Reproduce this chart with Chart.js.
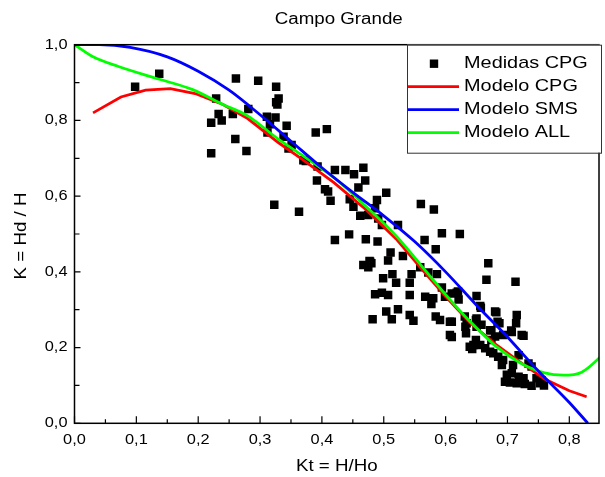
<!DOCTYPE html>
<html>
<head>
<meta charset="utf-8">
<script src="https://cdn.jsdelivr.net/npm/chart.js@4.4.1/dist/chart.umd.min.js"></script>
<style>
  html, body { margin: 0; padding: 0; background: #fff; }
  #wrap { width: 605px; height: 477px; }
</style>
</head>
<body>
<div id="wrap"><canvas id="chart" width="605" height="477"></canvas></div>
<script>
// Measured Kt / K pairs (Campo Grande station)
const kt = [
  0.098, 0.137, 0.261, 0.297, 0.229, 0.281, 0.233, 0.256, 0.238, 0.221,
  0.260, 0.278, 0.221, 0.326, 0.330, 0.326, 0.328, 0.311, 0.325, 0.343,
  0.316, 0.312, 0.338, 0.351, 0.346, 0.390, 0.408, 0.374, 0.393, 0.392,
  0.405, 0.410, 0.414, 0.323, 0.363, 0.421, 0.444, 0.421, 0.438, 0.452,
  0.467, 0.470, 0.459, 0.445, 0.451, 0.489, 0.491, 0.471, 0.490, 0.477,
  0.504, 0.462, 0.475, 0.486, 0.497, 0.523, 0.511, 0.560, 0.581, 0.594,
  0.623, 0.566, 0.584, 0.507, 0.531, 0.514, 0.499, 0.520, 0.545, 0.559,
  0.572, 0.586, 0.594, 0.599, 0.620, 0.650, 0.656, 0.669, 0.666, 0.478,
  0.467, 0.475, 0.486, 0.497, 0.507, 0.542, 0.504, 0.523, 0.482, 0.542,
  0.548, 0.584, 0.591, 0.610, 0.631, 0.650, 0.658, 0.680, 0.674, 0.567,
  0.580, 0.577, 0.607, 0.633, 0.649, 0.674, 0.639, 0.542, 0.513, 0.634,
  0.610, 0.713, 0.715, 0.714, 0.684, 0.650, 0.672, 0.706, 0.723, 0.693,
  0.680, 0.645, 0.656, 0.664, 0.672, 0.677, 0.685, 0.691, 0.693, 0.709,
  0.718, 0.734, 0.699, 0.707, 0.718, 0.726, 0.739, 0.696, 0.704, 0.715,
  0.728, 0.753, 0.755, 0.747, 0.739, 0.618, 0.621, 0.657, 0.682, 0.607,
  0.632, 0.649, 0.687, 0.707, 0.726, 0.610, 0.643, 0.759, 0.480, 0.370
];
const kd = [
  0.889, 0.923, 0.911, 0.905, 0.858, 0.830, 0.817, 0.817, 0.800, 0.794,
  0.751, 0.719, 0.713, 0.889, 0.858, 0.848, 0.842, 0.810, 0.808, 0.786,
  0.790, 0.768, 0.757, 0.735, 0.726, 0.768, 0.777, 0.693, 0.678, 0.641,
  0.618, 0.612, 0.588, 0.577, 0.559, 0.484, 0.499, 0.669, 0.669, 0.658,
  0.675, 0.641, 0.623, 0.592, 0.572, 0.590, 0.541, 0.486, 0.480, 0.429,
  0.609, 0.548, 0.550, 0.568, 0.524, 0.524, 0.451, 0.579, 0.565, 0.502,
  0.500, 0.484, 0.460, 0.430, 0.442, 0.394, 0.383, 0.371, 0.394, 0.412,
  0.398, 0.394, 0.359, 0.334, 0.348, 0.336, 0.310, 0.423, 0.379, 0.427,
  0.418, 0.412, 0.341, 0.345, 0.339, 0.339, 0.295, 0.301, 0.275, 0.286,
  0.271, 0.282, 0.273, 0.268, 0.282, 0.277, 0.260, 0.295, 0.246, 0.334,
  0.330, 0.315, 0.233, 0.238, 0.220, 0.220, 0.202, 0.371, 0.275, 0.264,
  0.343, 0.374, 0.286, 0.264, 0.268, 0.255, 0.246, 0.245, 0.233, 0.233,
  0.229, 0.207, 0.207, 0.198, 0.189, 0.185, 0.176, 0.154, 0.167, 0.154,
  0.180, 0.158, 0.128, 0.132, 0.123, 0.119, 0.099, 0.110, 0.108, 0.106,
  0.104, 0.106, 0.114, 0.119, 0.150, 0.345, 0.327, 0.305, 0.293, 0.268,
  0.255, 0.273, 0.264, 0.241, 0.231, 0.228, 0.196, 0.100, 0.423, 0.695
];

// Model curves
const cpgX = [0.030, 0.075, 0.115, 0.155, 0.195, 0.240, 0.280, 0.330, 0.370, 0.420,
              0.470, 0.520, 0.560, 0.600, 0.640, 0.680, 0.720, 0.760, 0.800, 0.828];
const cpgY = [0.820, 0.862, 0.880, 0.884, 0.871, 0.842, 0.805, 0.741, 0.695, 0.635,
              0.566, 0.487, 0.410, 0.335, 0.265, 0.210, 0.162, 0.117, 0.086, 0.070];

const smsX = [0.000, 0.040, 0.090, 0.150, 0.200, 0.250, 0.300, 0.350, 0.400, 0.450,
              0.500, 0.550, 0.600, 0.650, 0.700, 0.750, 0.800, 0.830];
const smsY = [1.000, 1.000, 0.993, 0.968, 0.930, 0.880, 0.815, 0.745, 0.675, 0.610,
              0.548, 0.480, 0.400, 0.312, 0.228, 0.138, 0.055, 0.000];

const allX = [0.000, 0.030, 0.070, 0.130, 0.190, 0.240, 0.280, 0.330, 0.370, 0.420,
              0.470, 0.520, 0.560, 0.600, 0.640, 0.680, 0.720, 0.760, 0.790, 0.820, 0.860];
const allY = [1.000, 0.968, 0.943, 0.912, 0.882, 0.842, 0.812, 0.750, 0.706, 0.648,
              0.575, 0.495, 0.418, 0.340, 0.268, 0.205, 0.160, 0.133, 0.127, 0.135, 0.190];

const xMajor = [0, 0.1, 0.2, 0.3, 0.4, 0.5, 0.6, 0.7, 0.8];
const xMinor = [0.05, 0.15, 0.25, 0.35, 0.45, 0.55, 0.65, 0.75];
const yMajor = [0, 0.2, 0.4, 0.6, 0.8, 1.0];
const yMinor = [0.1, 0.3, 0.5, 0.7, 0.9];

const legendItems = [
  { label: 'Medidas CPG', kind: 'square', color: '#000000' },
  { label: 'Modelo CPG', kind: 'line', color: '#ff0000' },
  { label: 'Modelo SMS', kind: 'line', color: '#0000ff' },
  { label: 'Modelo ALL', kind: 'line', color: '#00ff00' },
];

const FONT = '"Liberation Sans", Arial, sans-serif';
const STRETCH = 1.17;

const pairs = (xs, ys) => xs.map((x, i) => ({ x, y: ys[i] }));
const fmt = v => v.toFixed(1).replace('.', ',');

function wideText(ctx, text, x, y, size, align, rot) {
  ctx.save();
  ctx.translate(x, y);
  if (rot) ctx.rotate(rot);
  ctx.scale(STRETCH, 1);
  ctx.font = size + 'px ' + FONT;
  ctx.fillStyle = '#000';
  ctx.textAlign = align;
  ctx.textBaseline = 'middle';
  ctx.fillText(text, 0, 0);
  ctx.restore();
}

// frame, inward ticks, labels, titles and the boxed legend
const decorations = {
  id: 'decorations',
  afterDatasetsDraw(chart) {
    const { ctx, chartArea: a, scales } = chart;
    const xs = scales.x, ys = scales.y;

    ctx.save();
    ctx.strokeStyle = '#000';
    ctx.lineWidth = 1.5;
    ctx.strokeRect(a.left, a.top, a.right - a.left, a.bottom - a.top);

    ctx.lineWidth = 1.2;
    ctx.beginPath();
    xMajor.forEach(v => { const p = xs.getPixelForValue(v); ctx.moveTo(p, a.bottom); ctx.lineTo(p, a.bottom - 7); });
    xMinor.forEach(v => { const p = xs.getPixelForValue(v); ctx.moveTo(p, a.bottom); ctx.lineTo(p, a.bottom - 4); });
    yMajor.forEach(v => { const p = ys.getPixelForValue(v); ctx.moveTo(a.left, p); ctx.lineTo(a.left + 6, p); });
    yMinor.forEach(v => { const p = ys.getPixelForValue(v); ctx.moveTo(a.left, p); ctx.lineTo(a.left + 5, p); });
    ctx.stroke();
    ctx.restore();

    xMajor.forEach(v => wideText(ctx, fmt(v), xs.getPixelForValue(v), a.bottom + 17, 14, 'center'));
    yMajor.forEach(v => wideText(ctx, fmt(v), a.left - 7, ys.getPixelForValue(v), 14, 'right'));

    const cx = (a.left + a.right) / 2;
    wideText(ctx, 'Campo Grande', cx + 2, 20, 16, 'center');
    wideText(ctx, 'Kt = H/Ho', cx, 467, 16, 'center');
    wideText(ctx, 'K = Hd / H', 22, (a.top + a.bottom) / 2 + 2, 16, 'center', -Math.PI / 2);

    // legend box
    const lx = 407, ly = a.top, lw = a.right + 2 - lx, lh = 108;
    ctx.save();
    ctx.fillStyle = '#fff';
    ctx.fillRect(lx, ly, lw, lh);
    ctx.strokeStyle = '#333';
    ctx.lineWidth = 1;
    ctx.strokeRect(lx + 0.5, ly + 0.5, lw, lh);
    legendItems.forEach((it, i) => {
      const y = ly + 19 + i * 23;
      if (it.kind === 'square') {
        ctx.fillStyle = it.color;
        ctx.fillRect(434 - 4.2, y - 4.2, 8.4, 8.4);
      } else {
        ctx.strokeStyle = it.color;
        ctx.lineWidth = 2.8;
        ctx.beginPath();
        ctx.moveTo(408, y);
        ctx.lineTo(459, y);
        ctx.stroke();
      }
      wideText(ctx, it.label, 464, y, 17, 'left');
    });
    ctx.restore();
  }
};

const curve = (data, color, order, mode) => ({
  data,
  showLine: true,
  borderColor: color,
  backgroundColor: color,
  borderWidth: 2.8,
  pointRadius: 0,
  tension: mode ? 0.4 : 0,
  cubicInterpolationMode: mode || 'default',
  order,
});

new Chart(document.getElementById('chart'), {
  type: 'scatter',
  plugins: [decorations],
  data: {
    datasets: [
      {
        data: pairs(kt, kd),
        pointStyle: 'rect',
        pointRadius: 6,
        borderWidth: 0,
        backgroundColor: '#000',
        order: 4,
      },
      curve(pairs(cpgX, cpgY), '#ff0000', 3, null),
      curve(pairs(allX, allY), '#00ff00', 2, 'monotone'),
      curve(pairs(smsX, smsY), '#0000ff', 1, 'monotone'),
    ]
  },
  options: {
    responsive: false,
    animation: false,
    devicePixelRatio: 1,
    layout: { padding: { top: 44.7, right: 6, left: 0, bottom: 0 } },
    scales: {
      x: {
        min: 0, max: 0.848,
        grid: { display: false },
        border: { display: false },
        ticks: { display: false },
        afterFit: s => { s.height = 53.7; },
      },
      y: {
        min: 0, max: 1,
        grid: { display: false },
        border: { display: false },
        ticks: { display: false },
        afterFit: s => { s.width = 74.5; },
      },
    },
    plugins: {
      legend: { display: false },
      tooltip: { enabled: false },
      title: { display: false },
    },
  },
});
</script>
</body>
</html>
